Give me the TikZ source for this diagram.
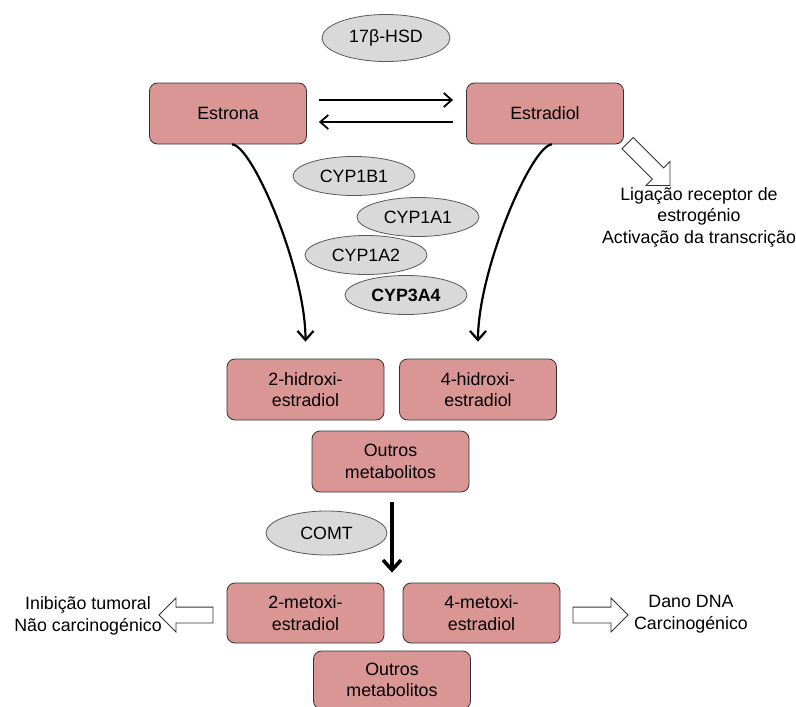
\documentclass[tikz,border=0pt]{standalone}
\usepackage{fontspec}
\setmainfont{Liberation Sans}
\usetikzlibrary{arrows.meta, shapes.geometric, shapes.arrows}
\definecolor{boxred}{RGB}{217,150,148}
\definecolor{enzgray}{RGB}{217,217,217}

\begin{document}
\begin{tikzpicture}[x=1pt, y=-1pt, thick, font=\fontsize{17.8}{21.5}\selectfont]
    \tikzset{box/.style={draw=black!80, fill=boxred, rounded corners=8pt, minimum width=157pt, minimum height=61pt, align=center, inner sep=2pt}};
    \tikzset{enzyme/.style={draw=black!65, fill=enzgray, ellipse, minimum width=122pt, minimum height=39pt, inner sep=0pt}};
    \tikzset{hollow/.style={draw=black!80, fill=white, single arrow, single arrow head extend=9pt, inner sep=0pt, inner ysep=7.5pt, line width=0.9pt}};
    \tikzset{barb/.style={line width=1.8pt, -{Straight Barb[length=8pt, width=14pt]}}};

    \useasboundingbox (0, 0) rectangle (796, 707);

    % Estrona / Estradiol
    \node [enzyme, minimum width=128pt, minimum height=47pt] (hsd) at (386, 38) {17β-HSD};
    \node [box] (estrona) at (228, 113.5) {Estrona};
    \node [box] (estradiol) at (545, 113.5) {Estradiol};
    \draw [barb] ([xshift=12pt, yshift=13.5pt]estrona.east) -- ([xshift=-13pt, yshift=13.5pt]estradiol.west);
    \draw [barb] ([xshift=-13pt, yshift=-8.5pt]estradiol.west) -- ([xshift=12pt, yshift=-8.5pt]estrona.east);

    % Receptor
    \node [hollow, minimum height=60pt, rotate=-45] (recarrow) at (646, 161.5) {};
    \node [align=center] (receptor) at (699, 217) {Ligação receptor de\\estrogénio\\Activação da transcrição};

    % CYP
    \node [enzyme] (cyp1b1) at (354, 176) {CYP1B1};
    \node [enzyme] (cyp1a1) at (418, 217) {CYP1A1};
    \node [enzyme] (cyp1a2) at (366, 255) {CYP1A2};
    \node [enzyme] (cyp3a4) at (406, 295) {\bfseries CYP3A4};

    % Hidroxi
    \node [box] (hidroxi2) at (305.5, 389.5) {2-hidroxi-\\estradiol};
    \node [box] (hidroxi4) at (478, 389.5) {4-hidroxi-\\estradiol};
    \node [box] (outros1) at (390.5, 461.5) {Outros\\metabolitos};

    \draw [line width=2.2pt, -{Straight Barb[length=9pt, width=16pt]}] ([xshift=4pt]estrona.south) .. controls +(20, 0) and +(0, -72) .. ([yshift=17pt]hidroxi2.north);
    \draw [line width=2.2pt, -{Straight Barb[length=9pt, width=16pt]}] ([xshift=7pt]estradiol.south) .. controls +(-20, 0) and +(0, -72) .. ([yshift=17pt]hidroxi4.north);

    % COMT
    \node [enzyme, minimum width=121pt, minimum height=44pt] (comt) at (326.5, 533) {COMT};

    % Metoxi
    \node [box, minimum height=60pt] (metoxi2) at (305.5, 613) {2-metoxi-\\estradiol};
    \node [box, minimum height=60pt] (metoxi4) at (481.5, 613) {4-metoxi-\\estradiol};
    \node [box, minimum height=58pt] (outros2) at (392, 680) {Outros\\metabolitos};

    \draw [line width=3.5pt, -{Straight Barb[length=10pt, width=18pt]}] ([xshift=1.5pt, yshift=-10pt]outros1.south) -- ([xshift=1.5pt, yshift=10pt]outros1.south |- metoxi2.north);

    % Effects
    \node [hollow, minimum height=54pt, rotate=180] (leftarrow) at (190, 615) {};
    \node [hollow, minimum height=55pt] (rightarrow) at (596.5, 615) {};
    \node [align=center] (inibicao) at (88, 616) {Inibição tumoral\\Não carcinogénico};
    \node [align=center] (dano) at (691, 614) {Dano DNA\\Carcinogénico};
\end{tikzpicture}
\end{document}
